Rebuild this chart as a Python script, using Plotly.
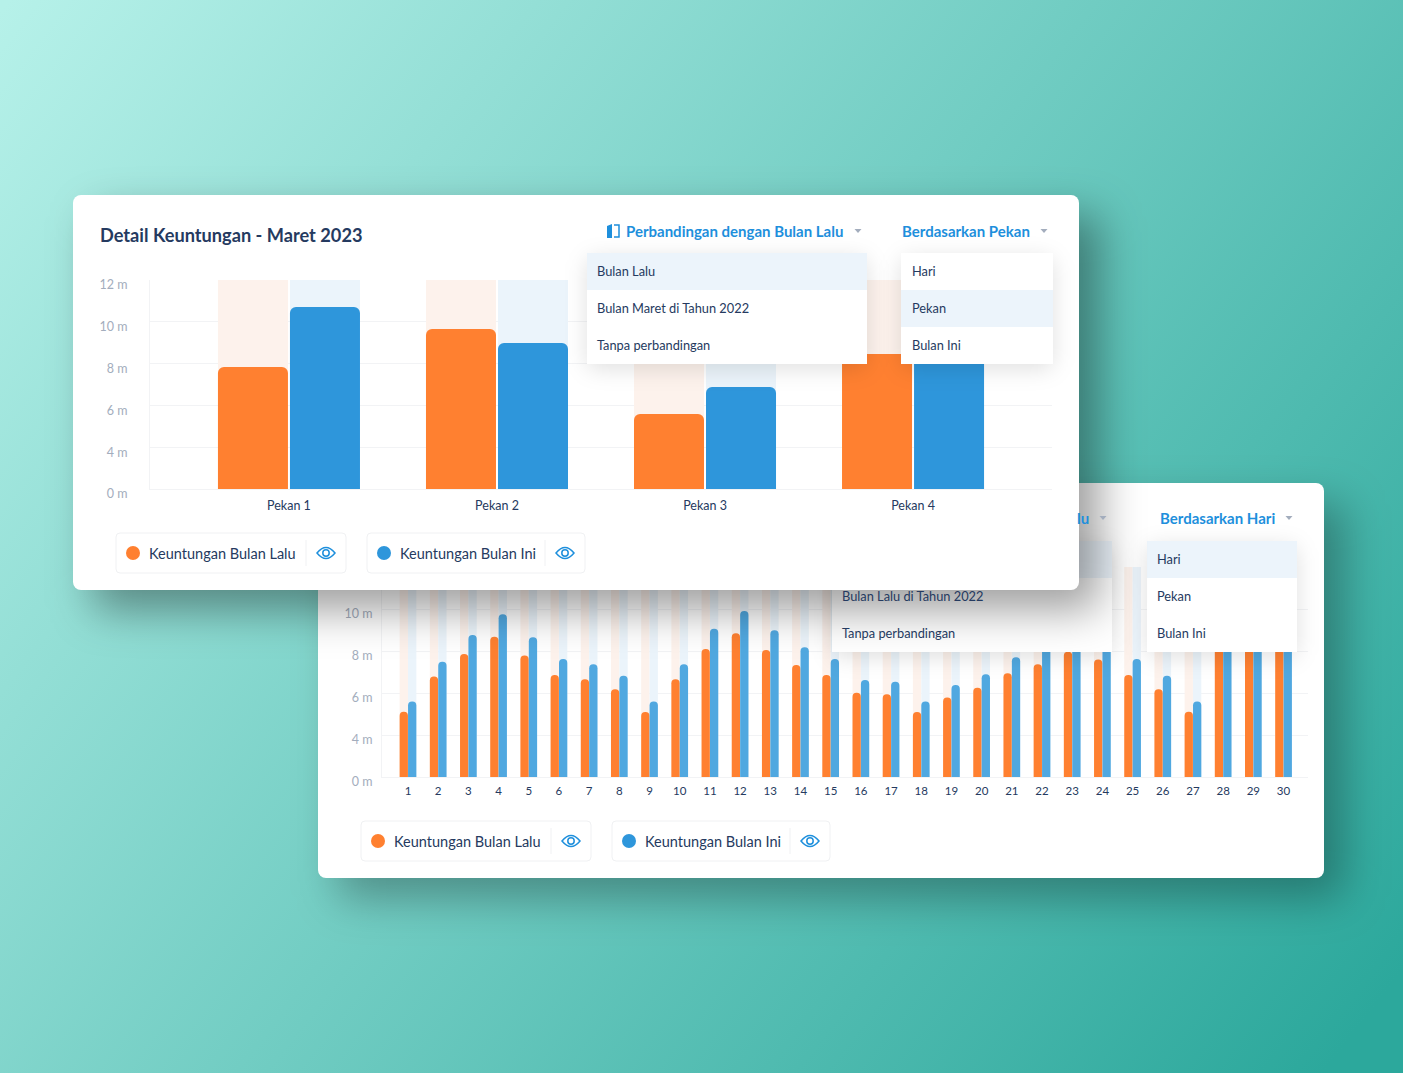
import base64
import plotly.graph_objects as go

# ---------- data ----------
week_labels = ["Pekan 1", "Pekan 2", "Pekan 3", "Pekan 4"]
week_last = [7.84, 9.66, 5.59, 8.46]
week_this = [10.71, 8.99, 6.88, 9.6]
day_labels = [str(i) for i in range(1, 31)]
day_last = [5.11, 6.78, 7.86, 8.68, 7.78, 6.86, 6.65, 6.18, 5.10, 6.65, 8.10, 8.84, 8.05, 7.33, 6.86,
            6.01, 5.94, 5.10, 5.78, 6.25, 6.94, 7.37, 7.97, 7.60, 6.86, 6.18, 5.11, 9.4, 9.2, 9.0]
day_this = [5.59, 7.49, 8.76, 9.75, 8.65, 7.62, 7.37, 6.82, 5.59, 7.37, 9.06, 9.90, 8.99, 8.18, 7.62,
            6.62, 6.54, 5.59, 6.38, 6.89, 7.70, 8.3, 8.8, 8.4, 7.62, 6.82, 5.59, 9.6, 9.5, 9.3]
ceiling = 12
y_tickvals = [2, 4, 6, 8, 10, 12]
y_ticktext = ["0 m", "4 m", "6 m", "8 m", "10 m", "12 m"]
series_names = ["Keuntungan Bulan Lalu", "Keuntungan Bulan Ini"]

# ---------- style ----------
W, H = 1403, 1073
FONT = "Lato"
NAVY = "#253a60"
BLUE = "#1e8fdc"
ORANGE = "#ff8030"
BAR_BLUE = "#2e96db"
BAR_BLUE_LIGHT = "#50a8e0"
GREY = "#a3adbd"
GRID = "#f2f3f5"
STRIPE_O = "#fdf2ec"
STRIPE_B = "#ebf4fb"
ROW = "#ecf4fb"


def svg_uri(body):
    svg = (f'<svg xmlns="http://www.w3.org/2000/svg" width="{W}" height="{H}" viewBox="0 0 {W} {H}">'
           f'<defs>'
           f'<linearGradient id="g" gradientUnits="userSpaceOnUse" x1="40" y1="-40" x2="1380" y2="1000">'
           f'<stop offset="0" stop-color="#b6f1e9"/><stop offset="1" stop-color="#2ca89c"/></linearGradient>'
           f'<filter id="b22" filterUnits="userSpaceOnUse" x="0" y="0" width="{W}" height="{H}">'
           f'<feGaussianBlur stdDeviation="22"/></filter>'
           f'<filter id="b10" filterUnits="userSpaceOnUse" x="0" y="0" width="{W}" height="{H}">'
           f'<feGaussianBlur stdDeviation="11"/></filter>'
           f'</defs>{body}</svg>')
    return "data:image/svg+xml;base64," + base64.b64encode(svg.encode()).decode()


def shadow(x, y, w, h, dx, dy, alpha, f):
    return f'<rect x="{x+dx}" y="{y+dy}" width="{w}" height="{h}" rx="8" fill="#000" fill-opacity="{alpha}" filter="url(#{f})"/>'


def menu(x, y, w, row):
    s = shadow(x, y, w, 111, 0, 5, 0.12, "b10")
    s += f'<rect x="{x}" y="{y}" width="{w}" height="111" fill="#fff"/>'
    s += f'<rect x="{x}" y="{y + 37 * row}" width="{w}" height="37" fill="{ROW}"/>'
    return s


bg_svg = (f'<rect width="{W}" height="{H}" fill="url(#g)"/>'
          + shadow(318, 483, 1006, 395, 20, 20, 0.30, "b22")
          + f'<rect x="318" y="483" width="1006" height="395" rx="8" fill="#fff"/>')
mid_svg = (menu(832, 541, 280, 0) + menu(1147, 541, 150, 0)
           + shadow(73, 195, 1006, 395, 20, 20, 0.38, "b22")
           + f'<rect x="73" y="195" width="1006" height="395" rx="8" fill="#fff"/>')
top_svg = menu(587, 253, 280, 0) + menu(901, 253, 152, 1)


def full_img(body, xref, yref, layer):
    return dict(source=svg_uri(body), xref=xref, yref=yref, x=0, y=0, sizex=W, sizey=H,
                xanchor="left", yanchor="top", sizing="stretch", layer=layer, opacity=1)


fig = go.Figure()


def add_bars(labels, last, this, xa, ya_stripe, ya_bar, bw, gap, radius, blue):
    for col, off in ((STRIPE_O, -bw - gap / 2), (STRIPE_B, gap / 2)):
        fig.add_trace(go.Bar(x=labels, y=[ceiling] * len(labels), xaxis=xa, yaxis=ya_stripe, offset=off, width=bw,
                             marker=dict(color=col, line_width=0, cornerradius=0),
                             showlegend=False, hoverinfo="skip"))
    for vals, col, off, nm in ((last, ORANGE, -bw - gap / 2, series_names[0]),
                               (this, blue, gap / 2, series_names[1])):
        fig.add_trace(go.Bar(x=labels, y=vals, xaxis=xa, yaxis=ya_bar, offset=off, width=bw, name=nm,
                             marker=dict(color=col, line_width=0, cornerradius=radius),
                             showlegend=False))


# back chart: subplot xy, front chart: subplot x3y3, page overlay: x2y2
add_bars(day_labels, day_last, day_this, "x", "y", "y4", 8.3 / 30.19, 0.1 / 30.19, 4, BAR_BLUE_LIGHT)
fig.add_trace(go.Scatter(x=[0], y=[0], xaxis="x2", yaxis="y2", mode="none", showlegend=False, hoverinfo="skip"))
add_bars(week_labels, week_last, week_this, "x3", "y3", "y5", 70 / 208, 2 / 208, 6, BAR_BLUE)


def dom_x(a, b):
    return [a / W, b / W]


def dom_y(bottom, top):
    return [1 - bottom / H, 1 - top / H]


yax = dict(range=[2, 12], tickmode="array", tickvals=y_tickvals, ticktext=y_ticktext, automargin=False,
           showgrid=True, gridcolor=GRID, gridwidth=1, zeroline=False, showline=True,
           linecolor=GRID, linewidth=1, ticks="", tickfont=dict(family=FONT, size=12.5, color=GREY),
           ticklabelshift=5, fixedrange=True)
xax = dict(type="category", showgrid=False, zeroline=False, showline=True, linecolor=GRID, linewidth=1,
           ticks="", fixedrange=True, automargin=False)
hidden_y = dict(range=[2, 12], visible=False, showgrid=False, zeroline=False, side="left",
                fixedrange=True, automargin=False)

fig.update_layout(
    width=W, height=H, margin=dict(l=0, r=0, t=0, b=0, autoexpand=False), autosize=False,
    paper_bgcolor="rgba(0,0,0,0)", plot_bgcolor="rgba(0,0,0,0)",
    barmode="overlay", showlegend=False,
    xaxis=dict(xax, domain=dom_x(382, 1308), range=[-0.861, 29.81], anchor="y", ticklabelstandoff=3,
               tickfont=dict(family=FONT, size=11.5, color=NAVY), tickangle=0, dtick=1,
               categoryorder="array", categoryarray=day_labels),
    yaxis=dict(yax, domain=dom_y(777, 567), anchor="x", ticklabelstandoff=6),
    yaxis4=dict(hidden_y, overlaying="y", anchor="x"),
    xaxis2=dict(domain=[0, 1], range=[0, W], visible=False, anchor="y2", fixedrange=True, automargin=False),
    yaxis2=dict(domain=[0, 1], range=[H, 0], visible=False, anchor="x2", fixedrange=True, automargin=False),
    xaxis3=dict(xax, domain=dom_x(150, 1052), range=[-0.668, 3.668], anchor="y3", ticklabelstandoff=5,
                tickfont=dict(family=FONT, size=12.5, color=NAVY),
                categoryorder="array", categoryarray=week_labels),
    yaxis3=dict(yax, domain=dom_y(489, 280), anchor="x3", ticklabelstandoff=19),
    yaxis5=dict(hidden_y, overlaying="y3", anchor="x3"),
)

images = [
    full_img(bg_svg, "paper", "paper", "below"),
    full_img(mid_svg, "x2", "y2", "below"),
    full_img(top_svg, "x2", "y2", "above"),
]
# the paper-referenced background uses fractional position/size
images[0].update(x=0, y=1, sizex=1, sizey=1)
fig.update_layout(images=images)


def text(s, x, y, size=13, color=NAVY, bold=False, anchor="left"):
    fig.add_annotation(text=f"<b>{s}</b>" if bold else s, x=x, y=y, xref="x2", yref="y2",
                       xanchor=anchor, yanchor="middle", showarrow=False,
                       font=dict(family=FONT, size=size, color=color), borderpad=0, borderwidth=0)


shapes = []


def caret(x, y):
    shapes.append(dict(type="path", path=f"M{x-3.5},{y-2} L{x+3.5},{y-2} L{x},{y+2} Z",
                       fillcolor="#a3adbd", line_width=0, xref="x2", yref="y2", layer="above"))


def eye(x, y):
    shapes.append(dict(type="path",
                       path=f"M{x-9},{y} Q{x},{y-11} {x+9},{y} Q{x},{y+11} {x-9},{y} Z",
                       fillcolor="rgba(0,0,0,0)", line=dict(color=BLUE, width=1.5),
                       xref="x2", yref="y2", layer="above"))
    shapes.append(dict(type="circle", x0=x - 3.2, x1=x + 3.2, y0=y - 3.2, y1=y + 3.2,
                       fillcolor="rgba(0,0,0,0)", line=dict(color=BLUE, width=1.5),
                       xref="x2", yref="y2", layer="above"))


def legend_box(x0, x1, y, dot, label, text_x, div_x, eye_x):
    r = 4
    t, b = y - 20, y + 20
    shapes.append(dict(type="path",
                       path=(f"M{x0+r},{t} L{x1-r},{t} Q{x1},{t} {x1},{t+r} L{x1},{b-r} Q{x1},{b} {x1-r},{b} "
                             f"L{x0+r},{b} Q{x0},{b} {x0},{b-r} L{x0},{t+r} Q{x0},{t} {x0+r},{t} Z"),
                       fillcolor="rgba(0,0,0,0)", line=dict(color="#f0f1f3", width=1),
                       xref="x2", yref="y2", layer="above"))
    shapes.append(dict(type="circle", x0=x0 + 10, x1=x0 + 24, y0=y - 7, y1=y + 7, fillcolor=dot, line_width=0,
                       xref="x2", yref="y2", layer="above"))
    shapes.append(dict(type="line", x0=div_x, x1=div_x, y0=y - 13, y1=y + 13, line=dict(color="#f0f1f3", width=1),
                       xref="x2", yref="y2", layer="above"))
    eye(eye_x, y)
    text(label, text_x, y, size=14.5)


def compare_icon(x, y):
    shapes.append(dict(type="path", path=f"M{x-6},{y-5} L{x-1},{y-7} L{x-1},{y+7} L{x-6},{y+7} Z",
                       fillcolor=BLUE, line_width=0, xref="x2", yref="y2", layer="above"))
    shapes.append(dict(type="path", path=f"M{x+1},{y-6} L{x+6},{y-6} L{x+6},{y+6} L{x+1},{y+6}",
                       fillcolor="rgba(0,0,0,0)", line=dict(color=BLUE, width=1.5),
                       xref="x2", yref="y2", layer="above"))


# front card texts
text("Detail Keuntungan - Maret 2023", 100, 235, size=18.2, bold=True)
compare_icon(613, 231)
text("Perbandingan dengan Bulan Lalu", 626, 231, size=15, color=BLUE, bold=True)
caret(858, 231)
text("Berdasarkan Pekan", 902, 231, size=15, color=BLUE, bold=True)
caret(1044, 231)
for s, yy in zip(["Bulan Lalu", "Bulan Maret di Tahun 2022", "Tanpa perbandingan"], [271, 308, 345]):
    text(s, 597, yy, size=12.8)
for s, yy in zip(["Hari", "Pekan", "Bulan Ini"], [271, 308, 345]):
    text(s, 912, yy, size=12.8)
legend_box(116, 346, 553, ORANGE, series_names[0], 149, 306, 326)
legend_box(367, 585, 553, BAR_BLUE, series_names[1], 400, 545, 565)

# back card texts
text("lu", 1089, 518, size=15, color=BLUE, bold=True, anchor="right")
caret(1103, 518)
text("Berdasarkan Hari", 1160, 518, size=15, color=BLUE, bold=True)
caret(1289, 518)
for s, yy in zip(["Bulan Lalu di Tahun 2022", "Tanpa perbandingan"], [596, 633]):
    text(s, 842, yy, size=12.8)
for s, yy in zip(["Hari", "Pekan", "Bulan Ini"], [559, 596, 633]):
    text(s, 1157, yy, size=12.8)
legend_box(361, 591, 841, ORANGE, series_names[0], 394, 551, 571)
legend_box(612, 830, 841, BAR_BLUE, series_names[1], 645, 790, 810)

fig.update_layout(shapes=shapes)

fig.write_html("out.html", config=dict(displayModeBar=False),
               post_script="document.body.style.margin='0';document.body.style.overflow='hidden';")
